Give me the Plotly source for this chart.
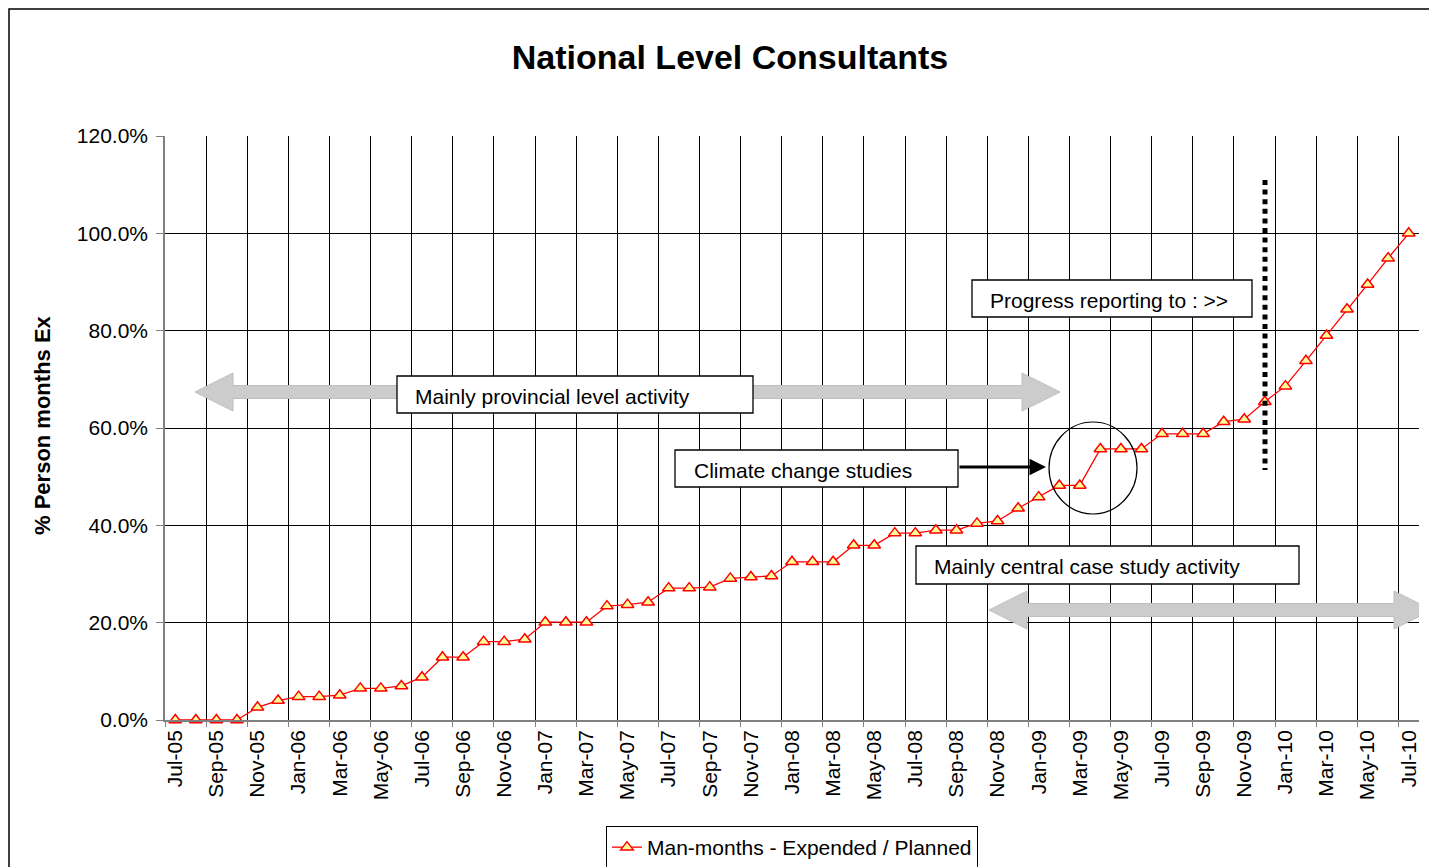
import plotly.graph_objects as go

months = [
    "Jul-05", "Aug-05", "Sep-05", "Oct-05", "Nov-05", "Dec-05",
    "Jan-06", "Feb-06", "Mar-06", "Apr-06", "May-06", "Jun-06",
    "Jul-06", "Aug-06", "Sep-06", "Oct-06", "Nov-06", "Dec-06",
    "Jan-07", "Feb-07", "Mar-07", "Apr-07", "May-07", "Jun-07",
    "Jul-07", "Aug-07", "Sep-07", "Oct-07", "Nov-07", "Dec-07",
    "Jan-08", "Feb-08", "Mar-08", "Apr-08", "May-08", "Jun-08",
    "Jul-08", "Aug-08", "Sep-08", "Oct-08", "Nov-08", "Dec-08",
    "Jan-09", "Feb-09", "Mar-09", "Apr-09", "May-09", "Jun-09",
    "Jul-09", "Aug-09", "Sep-09", "Oct-09", "Nov-09", "Dec-09",
    "Jan-10", "Feb-10", "Mar-10", "Apr-10", "May-10", "Jun-10",
    "Jul-10",
]
# % of planned man-months expended
pct_expended = [
    0.0, 0.0, 0.0, 0.0, 2.6, 4.0,
    4.8, 4.8, 5.1, 6.5, 6.5, 7.0,
    8.8, 12.9, 12.9, 16.1, 16.1, 16.6,
    20.1, 20.1, 20.1, 23.4, 23.7, 24.2,
    27.1, 27.1, 27.3, 29.1, 29.4, 29.6,
    32.5, 32.5, 32.5, 35.9, 35.9, 38.4,
    38.4, 39.0, 39.0, 40.4, 40.9, 43.5,
    45.8, 48.2, 48.2, 55.7, 55.7, 55.7,
    58.8, 58.8, 58.8, 61.3, 61.8, 65.4,
    68.6, 73.8, 79.0, 84.4, 89.5, 94.9,
    100.0,
]
series_name = "Man-months - Expended / Planned"
y_ticks = [0, 20, 40, 60, 80, 100, 120]
y_ticktext = ["0.0%", "20.0%", "40.0%", "60.0%", "80.0%", "100.0%", "120.0%"]

FONT = "Liberation Sans, Arial, sans-serif"
W, H = 1429, 867
L, R, T, B = 165, 1419, 136, 720   # plot area in pixels

idx = list(range(len(months)))
n = len(months)


# pixel -> data helpers for the drawn callouts
def dx(px):
    return -0.5 + (px - L) / (R - L) * n


def dy(py):
    return (B - py) / (B - T) * 120


def paper_x(px):
    return (px - L) / (R - L)


def paper_y(py):
    return (B - py) / (B - T)


def dbl_arrow(x_left, x_right, yc, shaft=6.5, head=19, head_len=38):
    pts = [
        (x_left, yc),
        (x_left + head_len, yc - head),
        (x_left + head_len, yc - shaft),
        (x_right - head_len, yc - shaft),
        (x_right - head_len, yc - head),
        (x_right, yc),
        (x_right - head_len, yc + head),
        (x_right - head_len, yc + shaft),
        (x_left + head_len, yc + shaft),
        (x_left + head_len, yc + head),
    ]
    path = "M " + " L ".join(f"{dx(a):.4f},{dy(b):.4f}" for a, b in pts) + " Z"
    return dict(type="path", path=path, xref="x", yref="y",
                fillcolor="rgb(204,204,204)", line=dict(color="rgb(190,190,190)", width=1),
                layer="above")


def box(x0, y0, x1, y1):
    return dict(type="rect", xref="x", yref="y", x0=dx(x0), x1=dx(x1), y0=dy(y0), y1=dy(y1),
                fillcolor="white", line=dict(color="black", width=1.3), layer="above")


fig = go.Figure()
fig.add_trace(go.Scatter(
    x=idx, y=pct_expended, mode="lines+markers", name=series_name,
    line=dict(color="#FF0000", width=1.3),
    marker=dict(symbol="triangle-up", size=11, color="#FFFF99",
                line=dict(color="#FF0000", width=1.5)),
    cliponaxis=False,
))

shapes = [
    dbl_arrow(195, 1060, 392),
    dbl_arrow(989, 1432, 610),
    box(397, 376, 753, 413),
    box(972, 280, 1252, 317),
    box(675, 450, 958, 487),
    box(916, 546, 1299, 584),
    dict(type="circle", xref="x", yref="y", x0=dx(1049), x1=dx(1137), y0=dy(422), y1=dy(514),
         line=dict(color="black", width=1.2), layer="above"),
    dict(type="line", xref="x", yref="y", x0=dx(1265), x1=dx(1265), y0=dy(180), y1=dy(470),
         line=dict(color="black", width=5, dash="5px,4.6px"), layer="above"),
    # outer chart frame
    dict(type="rect", xref="paper", yref="paper", x0=paper_x(9), x1=paper_x(1460),
         y0=paper_y(900), y1=paper_y(9), line=dict(color="black", width=1.5), layer="below"),
]

annotations = [
    dict(text="Mainly provincial level activity", x=dx(413), y=dy(396), xanchor="left"),
    dict(text="Progress reporting to : >>", x=dx(988), y=dy(300), xanchor="left"),
    dict(text="Climate change studies", x=dx(692), y=dy(470), xanchor="left"),
    dict(text="Mainly central case study activity", x=dx(932), y=dy(566), xanchor="left"),
]
for a in annotations:
    a.update(xref="x", yref="y", yanchor="middle", showarrow=False,
             font=dict(family=FONT, size=21, color="black"))
annotations.append(dict(
    x=dx(1046), y=dy(467), ax=dx(958), ay=dy(467), xref="x", yref="y", axref="x", ayref="y",
    text="", showarrow=True, arrowhead=2, arrowsize=1.1, arrowwidth=3, arrowcolor="black"))
annotations.append(dict(
    text="<b>% Person months Ex</b>", textangle=-90, x=paper_x(42), y=paper_y(425),
    xref="paper", yref="paper", showarrow=False, xanchor="center", yanchor="middle",
    font=dict(family=FONT, size=22, color="black")))

fig.update_layout(
    width=W, height=H, autosize=False,
    margin=dict(l=L, r=W - R, t=T, b=H - B, autoexpand=False),
    paper_bgcolor="white", plot_bgcolor="white",
    font=dict(family=FONT, color="black"),
    title=dict(text="<b>National Level Consultants</b>", x=730 / W, xanchor="center",
               y=1 - 57 / H, yanchor="middle", yref="container",
               font=dict(family=FONT, size=34, color="black")),
    xaxis=dict(
        range=[-0.5, n - 0.5], tickmode="array", automargin=False,
        tickvals=idx[::2], ticktext=months[::2], tickangle=-90,
        tickfont=dict(family=FONT, size=21, color="black"),
        ticks="", showgrid=False, zeroline=False,
        showline=True, linecolor="#808080", linewidth=1.5,
        minor=dict(tickmode="linear", tick0=-0.5, dtick=2, showgrid=True,
                   gridcolor="black", gridwidth=1, ticks="outside", ticklen=5,
                   tickcolor="#808080"),
    ),
    yaxis=dict(
        range=[0, 120], tickmode="array", tickvals=y_ticks, ticktext=y_ticktext,
        automargin=False, ticklabelstandoff=4,
        tickfont=dict(family=FONT, size=21, color="black"),
        ticks="outside", ticklen=7, tickcolor="#808080",
        showgrid=True, gridcolor="black", gridwidth=1, zeroline=False,
        showline=True, linecolor="#808080", linewidth=1.5,
    ),
    showlegend=True,
    legend=dict(orientation="h", x=792 / W, xanchor="center", xref="container",
                y=1 - 826 / H, yanchor="top", yref="container",
                bordercolor="black", borderwidth=1, bgcolor="white",
                font=dict(family=FONT, size=21, color="black")),
    shapes=shapes,
    annotations=annotations,
)

fig.write_html("out.html", config={"displayModeBar": False},
               post_script="document.body.style.margin='0';")
